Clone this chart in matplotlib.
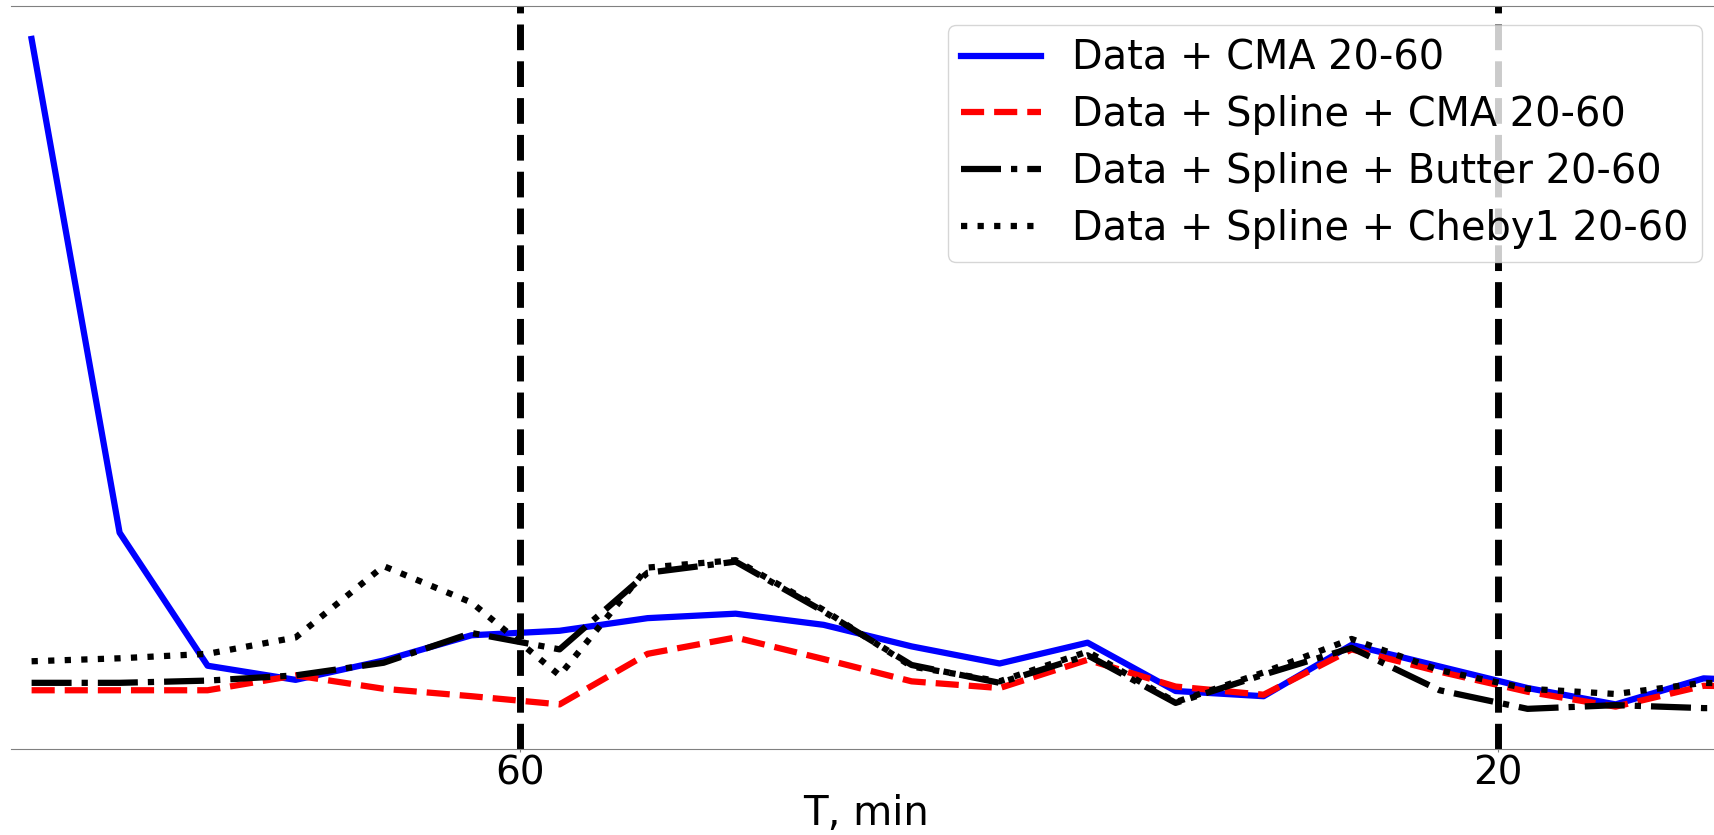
import matplotlib
matplotlib.use("Agg")
import matplotlib.pyplot as plt

# ----------------------------------------
# Data (frequency bins in 1/min, amplitudes in arbitrary units)
# ----------------------------------------
freq = [0.000, 0.003, 0.006, 0.009, 0.012, 0.015, 0.018, 0.021, 0.024, 0.027,
        0.030, 0.033, 0.036, 0.039, 0.042, 0.045, 0.048, 0.051, 0.054, 0.057, 0.060]

cma = [95.5, 29.1, 11.2, 9.3, 11.9, 15.3, 15.9, 17.6, 18.2, 16.7,
       13.8, 11.5, 14.3, 7.8, 7.1, 14.0, 11.1, 8.2, 6.0, 9.5, 9.0]
spline_cma = [7.9, 7.9, 7.9, 9.9, 8.1, 7.1, 6.0, 12.8, 15.0, 12.1,
              9.1, 8.2, 12.0, 8.4, 7.3, 13.4, 10.4, 7.7, 5.7, 8.5, 8.3]
spline_butter = [8.9, 8.9, 9.2, 9.9, 11.6, 15.6, 13.4, 23.7, 25.2, 18.5,
                 11.3, 8.9, 12.6, 6.2, 10.0, 13.6, 7.9, 5.4, 5.9, 5.5, 5.5]
spline_cheby = [11.8, 12.2, 12.8, 15.0, 24.6, 19.7, 9.9, 24.4, 25.4, 18.7,
                11.1, 9.1, 13.1, 6.3, 10.3, 14.8, 10.6, 8.1, 7.4, 8.9, 8.6]

labels = ["Data + CMA 20-60", "Data + Spline + CMA 20-60",
          "Data + Spline + Butter 20-60", "Data + Spline + Cheby1 20-60"]
band_periods = [60, 20]  # minutes

# ----------------------------------------
# Plot
# ----------------------------------------
plt.rcParams["font.family"] = "DejaVu Sans"
plt.rcParams["font.size"] = 29

fig = plt.figure(figsize=(17.15, 8.35), dpi=100)
ax = fig.add_axes([11 / 1715, 86 / 835, 1711 / 1715, 743.5 / 835])

lw = 4.5
ax.plot(freq, cma, color="blue", ls="-", lw=lw, label=labels[0])
ax.plot(freq, spline_cma, color="red", ls="--", lw=lw, label=labels[1])
ax.plot(freq, spline_butter, color="black", ls="-.", lw=lw, label=labels[2])
ax.plot(freq, spline_cheby, color="black", ls=":", lw=lw, label=labels[3])

for T in band_periods:
    ax.axvline(1 / T, color="black", ls="--", lw=5)

ax.set_xlim(-0.000702, 0.057627)
ax.set_ylim(0, 100)
ax.set_xticks([1 / T for T in band_periods])
ax.set_xticklabels([str(T) for T in band_periods], fontsize=28)
ax.set_yticks([])
ax.tick_params(axis="x", length=2, pad=2, color="0.5")
ax.set_xlabel("T, min", labelpad=1)

for side in ["left", "right"]:
    ax.spines[side].set_visible(False)
for side in ["top", "bottom"]:
    ax.spines[side].set_color("0.5")

ax.legend(loc="upper right", fontsize=28.7, labelspacing=0.42, borderpad=0.33)

fig.savefig("out.png", dpi=100)
